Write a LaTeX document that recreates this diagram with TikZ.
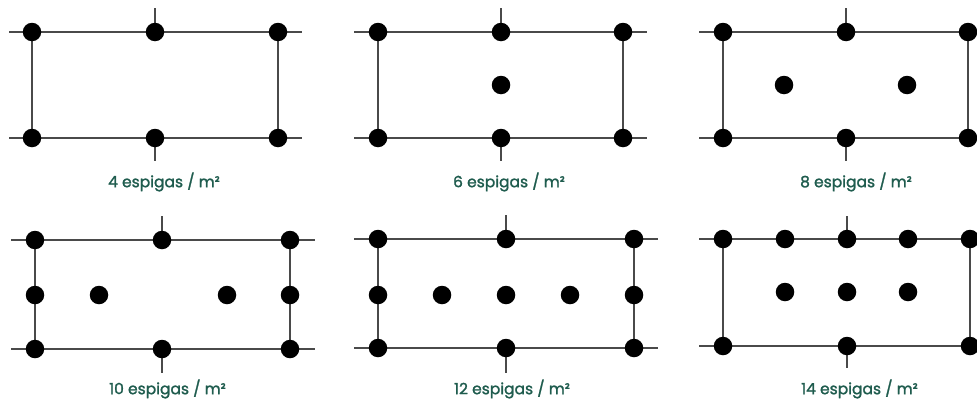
\documentclass[tikz,border=0pt]{standalone}
\usepackage{fontspec}
\setmainfont{Poppins}
\newfontfamily\capfont{Poppins}[FakeBold=1.5]
\definecolor{labelteal}{HTML}{1F5C4E}
\definecolor{wire}{HTML}{4A4A4A}
\pgfdeclarelayer{background}
\pgfsetlayers{background,main}
\begin{document}
\begin{tikzpicture}[x=1pt,y=-1pt,
  peg/.style={circle,fill=black,inner sep=0pt,minimum size=18.5pt},
  wireline/.style={draw=wire,line width=1.4pt},
  caption/.style={text=labelteal,font=\capfont\fontsize{15.5}{17}\selectfont,inner sep=0pt}]
\useasboundingbox (0,0) rectangle (977,399);
\clip (0,0) rectangle (977,399);

% ---------- 4 espigas ----------
\coordinate (a-l1) at (9,32);  \coordinate (a-r1) at (302,32);
\coordinate (a-l2) at (9,138); \coordinate (a-r2) at (302,138);
\coordinate (a-tt) at (155,8); \coordinate (a-bt) at (155,161);
\node[peg] (a1) at (32,32) {};  \node[peg] (a2) at (155,32) {};  \node[peg] (a3) at (278,32) {};
\node[peg] (a4) at (32,138) {}; \node[peg] (a5) at (155,138) {}; \node[peg] (a6) at (278,138) {};
\node[caption] (a-cap) at (164,182) {4 espigas / m²};
\begin{pgfonlayer}{background}
  \draw[wireline] (a-l1) -- (a-r1);
  \draw[wireline] (a-l2) -- (a-r2);
  \draw[wireline] (a1.center) -- (a4.center);
  \draw[wireline] (a3.center) -- (a6.center);
  \draw[wireline] (a-tt) -- (a2.center);
  \draw[wireline] (a5.center) -- (a-bt);
\end{pgfonlayer}

% ---------- 6 espigas ----------
\coordinate (b-l1) at (354,32);  \coordinate (b-r1) at (647,32);
\coordinate (b-l2) at (354,138); \coordinate (b-r2) at (647,138);
\coordinate (b-tt) at (501,8);   \coordinate (b-bt) at (501,161);
\node[peg] (b1) at (378,32) {};  \node[peg] (b2) at (501,32) {};  \node[peg] (b3) at (623,32) {};
\node[peg] (b4) at (378,138) {}; \node[peg] (b5) at (501,138) {}; \node[peg] (b6) at (623,138) {};
\node[peg] (b7) at (501,85) {};
\node[caption] (b-cap) at (509,182) {6 espigas / m²};
\begin{pgfonlayer}{background}
  \draw[wireline] (b-l1) -- (b-r1);
  \draw[wireline] (b-l2) -- (b-r2);
  \draw[wireline] (b1.center) -- (b4.center);
  \draw[wireline] (b3.center) -- (b6.center);
  \draw[wireline] (b-tt) -- (b2.center);
  \draw[wireline] (b5.center) -- (b-bt);
\end{pgfonlayer}

% ---------- 8 espigas ----------
\coordinate (c-l1) at (699,32);  \coordinate (c-r1) at (995,32);
\coordinate (c-l2) at (699,138); \coordinate (c-r2) at (995,138);
\coordinate (c-tt) at (846,8);   \coordinate (c-bt) at (846,161);
\node[peg] (c1) at (723,32) {};  \node[peg] (c2) at (846,32) {};  \node[peg] (c3) at (968,32) {};
\node[peg] (c4) at (723,138) {}; \node[peg] (c5) at (846,138) {}; \node[peg] (c6) at (968,138) {};
\node[peg] (c7) at (784,85) {};  \node[peg] (c8) at (907,85) {};
\node[caption] (c-cap) at (856,182) {8 espigas / m²};
\begin{pgfonlayer}{background}
  \draw[wireline] (c-l1) -- (c-r1);
  \draw[wireline] (c-l2) -- (c-r2);
  \draw[wireline] (c1.center) -- (c4.center);
  \draw[wireline] (c3.center) -- (c6.center);
  \draw[wireline] (c-tt) -- (c2.center);
  \draw[wireline] (c5.center) -- (c-bt);
\end{pgfonlayer}

% ---------- 10 espigas ----------
\coordinate (d-l1) at (11,240);  \coordinate (d-r1) at (315,240);
\coordinate (d-l2) at (11,349);  \coordinate (d-r2) at (315,349);
\coordinate (d-tt) at (162,216); \coordinate (d-bt) at (162,373);
\node[peg] (d1) at (35,240) {};  \node[peg] (d2) at (162,240) {};  \node[peg] (d3) at (290,240) {};
\node[peg] (d4) at (35,349) {};  \node[peg] (d5) at (162,349) {};  \node[peg] (d6) at (290,349) {};
\node[peg] (d7) at (35,295) {};  \node[peg] (d8) at (99,295) {};
\node[peg] (d9) at (227,295) {}; \node[peg] (d10) at (290,295) {};
\node[caption] (d-cap) at (167.5,389) {10 espigas / m²};
\begin{pgfonlayer}{background}
  \draw[wireline] (d-l1) -- (d-r1);
  \draw[wireline] (d-l2) -- (d-r2);
  \draw[wireline] (d1.center) -- (d4.center);
  \draw[wireline] (d3.center) -- (d6.center);
  \draw[wireline] (d-tt) -- (d2.center);
  \draw[wireline] (d5.center) -- (d-bt);
\end{pgfonlayer}

% ---------- 12 espigas ----------
\coordinate (e-l1) at (354,239);  \coordinate (e-r1) at (658,239);
\coordinate (e-l2) at (354,348);  \coordinate (e-r2) at (658,348);
\coordinate (e-tt) at (506,215);  \coordinate (e-bt) at (506,373);
\node[peg] (e1) at (378,239) {};  \node[peg] (e2) at (506,239) {};  \node[peg] (e3) at (634,239) {};
\node[peg] (e4) at (378,348) {};  \node[peg] (e5) at (506,348) {};  \node[peg] (e6) at (634,348) {};
\node[peg] (e7) at (378,295) {};  \node[peg] (e8) at (442,295) {};  \node[peg] (e9) at (506,295) {};
\node[peg] (e10) at (570,295) {}; \node[peg] (e11) at (634,295) {};
\node[caption] (e-cap) at (512,389) {12 espigas / m²};
\begin{pgfonlayer}{background}
  \draw[wireline] (e-l1) -- (e-r1);
  \draw[wireline] (e-l2) -- (e-r2);
  \draw[wireline] (e1.center) -- (e4.center);
  \draw[wireline] (e3.center) -- (e6.center);
  \draw[wireline] (e-tt) -- (e2.center);
  \draw[wireline] (e5.center) -- (e-bt);
\end{pgfonlayer}

% ---------- 14 espigas ----------
\coordinate (f-l1) at (699,239);  \coordinate (f-r1) at (995,239);
\coordinate (f-l2) at (699,346);  \coordinate (f-r2) at (995,346);
\coordinate (f-tt) at (847,216);  \coordinate (f-bt) at (847,368);
\node[peg] (f1) at (723,239) {};  \node[peg] (f2) at (785,239) {};  \node[peg] (f3) at (847,239) {};
\node[peg] (f4) at (908,239) {};  \node[peg] (f5) at (970,239) {};
\node[peg] (f6) at (785,292) {};  \node[peg] (f7) at (847,292) {};  \node[peg] (f8) at (908,292) {};
\node[peg] (f9) at (723,346) {};  \node[peg] (f10) at (847,346) {}; \node[peg] (f11) at (970,346) {};
\node[caption] (f-cap) at (859.5,389) {14 espigas / m²};
\begin{pgfonlayer}{background}
  \draw[wireline] (f-l1) -- (f-r1);
  \draw[wireline] (f-l2) -- (f-r2);
  \draw[wireline] (f1.center) -- (f9.center);
  \draw[wireline] (f5.center) -- (f11.center);
  \draw[wireline] (f-tt) -- (f3.center);
  \draw[wireline] (f10.center) -- (f-bt);
\end{pgfonlayer}

\end{tikzpicture}
\end{document}
